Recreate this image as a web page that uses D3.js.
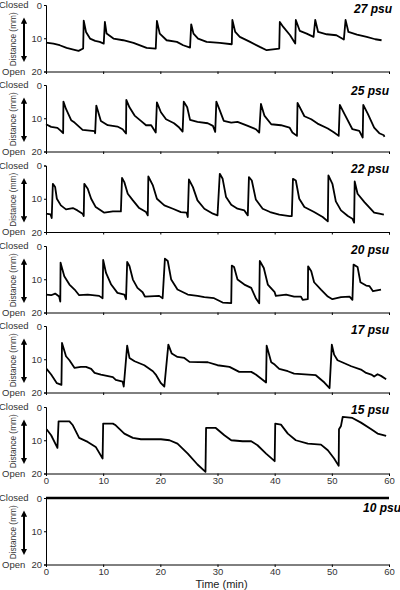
<!DOCTYPE html>
<html><head><meta charset="utf-8">
<script src="https://cdn.jsdelivr.net/npm/d3@7"></script>
<style>
body{margin:0;background:#fff;}
svg{display:block;}
text{font-family:"Liberation Sans",Arial,sans-serif;}
</style></head>
<body>
<div id="chart"></div>
<script>
// ---------- DATA ----------
const panelLabels = ["27 psu","25 psu","22 psu","20 psu","17 psu","15 psu","10 psu"];
const xTicks = [0,10,20,30,40,50,60];
const yTicks = [0,10,20];

// [time (min), distance (mm)]
const s27 = [[0,11.3],[1.3,11.6],[2.4,12.1],[3.6,12.9],[4.8,13.4],[5.7,13.8],[6.5,13.1],[6.6,4.7],[7.0,8.1],[7.7,10.1],[8.6,10.8],[9.4,11.1],[10.1,11.6],[10.3,5.1],[10.6,8.6],[11.8,10.1],[13.5,10.6],[15.3,11.4],[17.6,12.9],[19.2,13.1],[19.4,4.8],[19.9,8.6],[21.1,10.6],[22.9,11.1],[24.0,12.1],[25.2,12.8],[25.4,5.8],[25.8,8.6],[26.6,10.1],[28.1,11.1],[30.4,11.4],[32.5,11.8],[32.6,4.5],[33.1,8.1],[33.9,9.6],[35.7,11.1],[37.4,12.6],[38.6,13.6],[40.8,13.1],[40.9,5.1],[41.5,6.6],[42.7,9.1],[43.6,11.6],[43.7,4.5],[44.4,7.8],[45.6,8.6],[46.8,9.6],[47.1,4.5],[47.6,8.1],[49.1,8.8],[50.8,9.1],[52.1,10.4],[52.4,4.5],[52.9,8.1],[54.4,8.9],[56.1,9.6],[57.6,10.3],[58.7,10.6]];

const s25 = [[0,11.8],[0.9,12.6],[2,12.9],[2.6,13.8],[3.0,14.5],[3.05,5.0],[3.5,7.2],[4.4,10.6],[5.0,11.3],[6.4,13.5],[8.5,13.9],[8.6,14.5],[8.8,6.2],[9.6,10.8],[10.8,12.1],[12.5,12.5],[13.4,13.3],[14.0,14.6],[14.05,4.5],[14.6,6.7],[15.5,9.2],[16.6,10.8],[17.5,12.1],[18.4,12.1],[19.2,14.3],[19.4,5.2],[20.1,8.2],[21.0,10.3],[22.4,11.5],[23.3,12.8],[23.9,14.0],[24.1,5.0],[24.7,6.7],[25.2,10.5],[26.5,11.1],[28.3,11.5],[29.2,12.3],[29.6,14.1],[29.8,5.0],[30.3,7.2],[31.1,10.8],[32.4,11.3],[33.5,11.1],[35.3,12.3],[36.7,13.3],[37.3,14.3],[37.6,5.7],[38.2,9.2],[39.4,11.8],[41.1,12.1],[42.6,12.8],[43.1,14.3],[43.9,15.3],[44.0,5.4],[45.2,9.4],[46.4,10.3],[47.5,11.6],[49.3,13.1],[50.4,14.3],[51.2,15.3],[51.4,6.0],[52.2,8.7],[53.6,13.3],[54.8,13.8],[55.4,15.8],[55.5,6.0],[56.3,8.7],[57.4,12.8],[58.3,14.5],[59.1,15.1],[59.2,15.6]];

const s22 = [[0,14.5],[0.8,14.7],[1.0,15.8],[1.2,5.5],[1.6,6.5],[1.9,10],[2.6,12],[3.5,13.2],[4.7,12.8],[5.5,13.5],[6.4,14.5],[6.6,15.2],[6.7,5.5],[7.3,7],[7.9,10],[8.7,12.5],[10.2,14.2],[11.7,13.8],[13.1,13.8],[13.3,3.7],[13.7,5],[14.3,8.5],[15.2,10.5],[16.3,12.8],[17.5,14],[17.8,15],[17.9,3.3],[18.7,6],[19.4,10],[20.7,12],[22.2,13],[23.6,14],[24.6,14.2],[24.8,15.5],[25.0,4.2],[25.7,6.5],[26.5,10.5],[27.7,13],[29.2,14.5],[30.0,15],[30.4,2.5],[30.9,4],[31.5,9.5],[32.4,11.8],[33.5,13],[34.7,13.5],[35.3,15],[35.5,3.5],[36.0,4.5],[36.7,10.2],[37.9,13],[39.2,14],[40.8,14.8],[42.6,15.2],[43.0,15.2],[43.2,4],[43.7,4.5],[44.3,10],[45.2,12.5],[46.9,14],[48.4,15.5],[49.3,16.8],[49.4,3],[50.1,5.5],[50.7,10.8],[51.6,13.5],[52.8,15.2],[53.6,16],[53.9,17.2],[54.0,4.8],[54.5,8.5],[55.7,11],[57.4,14.2],[58.3,14.5],[59.1,14.8]];

const s20 = [[0,14.6],[0.9,14.8],[1.6,14.3],[2.3,15.2],[2.5,16.7],[2.55,5.0],[2.7,6],[3.2,9.1],[4.1,11.6],[5.0,13.1],[5.8,14.8],[7.3,14.6],[9.3,15],[9.9,15.7],[10.0,4.2],[10.5,8.1],[11.4,11.6],[12.5,14.1],[13.7,14.6],[14.0,16],[14.2,4.8],[14.6,6],[15.2,10.1],[16.0,12.6],[16.9,13.9],[17.3,15.2],[19.8,15],[20.4,15.7],[20.8,3.8],[21.3,4.5],[21.9,10.1],[23.0,13.1],[24.8,14.6],[26.5,15],[27.7,15.4],[29.4,15.7],[30.9,17],[32.4,17.2],[32.5,5.9],[32.9,6.3],[33.5,10.1],[34.7,11.6],[35.9,12.6],[36.7,15.7],[37.3,17.2],[37.4,4.5],[38.1,6.6],[38.8,11.6],[40.0,13.9],[40.2,15],[42.0,14.6],[43.4,15.2],[44.6,15.2],[44.9,16.2],[45.8,16],[45.85,6.1],[46.4,7.6],[46.9,10.9],[48.1,13.1],[49.3,15.2],[50.1,16],[51.6,15.4],[53.1,15.2],[53.6,16.2],[53.8,5.6],[54.5,6.3],[55.0,10.9],[56.0,11.9],[56.6,12.1],[57.2,13.6],[58.6,13.1]];

const s17 = [[0.1,12.9],[0.9,14.6],[1.9,17.2],[2.7,17.7],[2.8,5.1],[3.5,9.1],[4.1,10.3],[5.0,12.6],[6.1,12.3],[7.0,12.3],[7.9,12.9],[8.5,14.1],[9.6,14.6],[11.7,15.4],[12.2,16.2],[13.4,16.7],[13.6,18.2],[14.2,5.9],[14.6,9.6],[15.5,10.6],[17.2,11.8],[18.7,13.6],[19.2,14.6],[20.1,17.2],[20.7,18.2],[21.4,5.6],[22.0,8.3],[23.0,9.3],[24.2,9.6],[25.1,10.8],[28.3,10.9],[30.0,11.8],[32.1,12.3],[33.8,13.8],[35.9,13.8],[36.7,14.6],[38.5,17.0],[38.6,5.9],[39.4,10.9],[40.0,11.6],[40.8,12.9],[42.3,13.6],[43.4,14.3],[47.2,14.8],[48.7,17],[49.6,18.7],[50.0,5.6],[50.4,8.6],[51.0,10.3],[53.4,12.1],[55.1,13.1],[56.0,14.1],[56.9,14.6],[57.4,15.2],[58.0,14.5],[58.6,15],[59.5,16]];

const s15 = [[0.1,6.7],[0.9,8.5],[2.0,12.3],[2.2,4.3],[4.1,4.3],[4.7,5.5],[5.8,9.3],[7.3,10.5],[8.7,12],[9.9,15.5],[10.0,5],[11.7,5],[12.2,5.5],[13.7,8],[15.2,9.3],[16.6,9.7],[20.1,9.7],[21.6,10],[23.0,11],[24.8,14],[26.5,17.3],[27.9,19.5],[28.0,6.3],[29.7,6.3],[31.2,8.5],[32.4,10],[34.4,10.3],[35.9,10.3],[37.0,11.5],[38.5,14],[40.0,16.3],[40.1,5],[41.1,5.3],[42.3,8],[43.7,10],[45.8,11],[48.1,11.3],[49.3,13],[50.4,15.5],[51.2,17.7],[51.25,6.7],[51.6,5.7],[51.9,3],[53.6,3.3],[55.1,4.7],[56.9,6.7],[58.0,8],[59.5,8.7]];

const s10 = [[0,0],[60,0]];

const series = [s27,s25,s22,s20,s17,s15,s10];

// ---------- LAYOUT ----------
const W = 400, H = 590;
const x0 = 46, x1 = 389;
const panelTops = [5, 85, 165.5, 246, 326, 407, 498];
const panelH = 66.5;
const labelPos = [[392,13],[389,95],[389,173],[389,254],[389,334],[389,414],[401,512]];
const xLabelPanels = [5,6];
const FONT = "'Liberation Sans',Arial,sans-serif";

const svg = d3.select("#chart").append("svg").attr("width",W).attr("height",H);

const defs = svg.append("defs");
defs.append("marker").attr("id","arr")
  .attr("viewBox","0 0 10 10").attr("refX",6).attr("refY",5)
  .attr("markerWidth",3.2).attr("markerHeight",3.2)
  .attr("orient","auto-start-reverse").attr("markerUnits","strokeWidth")
  .append("path").attr("d","M0,0 L10,5 L0,10 z").attr("fill","#000");

const x = d3.scaleLinear().domain([0,60]).range([x0,x1]);

series.forEach((data,i)=>{
  const top = panelTops[i];
  const y = d3.scaleLinear().domain([0,20]).range([top, top+panelH]);
  const g = svg.append("g");

  // y axis
  const ya = g.append("g").attr("transform",`translate(${x0},0)`)
    .call(d3.axisLeft(y).tickValues(yTicks).tickSize(2).tickPadding(2));
  ya.select(".domain").attr("stroke","#000").attr("stroke-width",1);
  ya.selectAll("text").attr("font-size",9.5).attr("fill","#333").attr("font-family",FONT);

  // x axis
  const xa = g.append("g").attr("transform",`translate(0,${top+panelH})`)
    .call(d3.axisBottom(x).tickValues(xTicks).tickSize(2.5).tickPadding(1)
      .tickFormat(xLabelPanels.includes(i) ? d3.format("d") : ""));
  xa.select(".domain").attr("stroke","#000").attr("stroke-width",1);
  xa.selectAll("text").attr("font-size",9.5).attr("fill","#333").attr("font-family",FONT);

  // Closed / Open
  g.append("text").attr("x",-1).attr("y",top+3).attr("font-size",9.5).attr("fill","#333").text("Closed");
  g.append("text").attr("x",2).attr("y",top+panelH+3).attr("font-size",9.5).attr("fill","#333").text("Open");

  // Distance label
  g.append("text").attr("transform",`translate(16,${top+panelH/2+1}) rotate(-90)`)
    .attr("text-anchor","middle").attr("font-size",8.3).attr("fill","#333").text("Distance (mm)");

  // double arrow
  g.append("line").attr("x1",24).attr("x2",24)
    .attr("y1",top+15).attr("y2",top+panelH-12)
    .attr("stroke","#000").attr("stroke-width",2)
    .attr("marker-start","url(#arr)").attr("marker-end","url(#arr)");

  // data line
  const line = d3.line().x(d=>x(d[0])).y(d=>y(d[1]));
  g.append("path").datum(data).attr("d",line)
    .attr("fill","none").attr("stroke","#000")
    .attr("stroke-width", i===6 ? 2.6 : 1.8)
    .attr("stroke-linejoin","round");

  // panel label
  g.append("text").attr("x",labelPos[i][0]).attr("y",labelPos[i][1])
    .attr("text-anchor","end").attr("font-size",12).attr("font-weight","bold")
    .attr("font-style","italic").attr("fill","#000").text(panelLabels[i]);
});

svg.append("text").attr("x",(x0+x1)/2+4).attr("y",588).attr("text-anchor","middle")
  .attr("font-size",11).attr("fill","#222").text("Time (min)");
</script>
</body></html>
